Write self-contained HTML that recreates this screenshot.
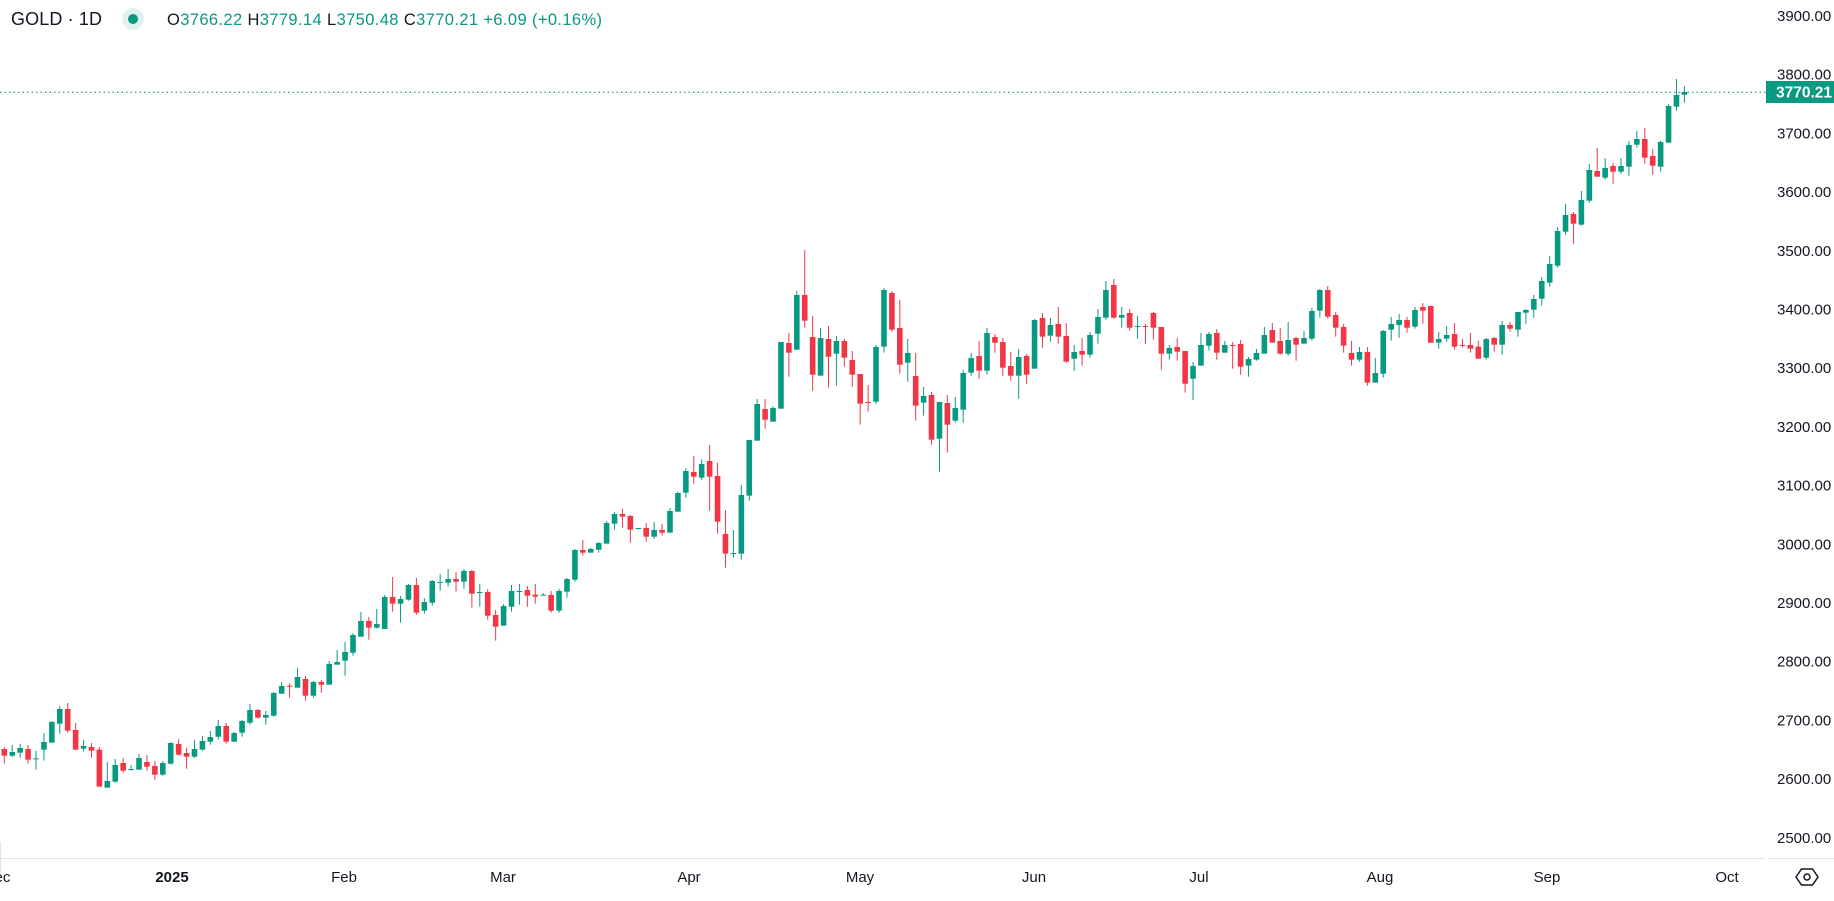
<!DOCTYPE html>
<html><head><meta charset="utf-8">
<style>
html,body{margin:0;padding:0;background:#fff;}
body{width:1834px;height:901px;overflow:hidden;position:relative;font-family:"Liberation Sans",sans-serif;color:#131722;}
svg{position:absolute;left:0;top:0;}
</style></head>
<body>
<svg id="c" width="1834" height="901" xmlns="http://www.w3.org/2000/svg">
<line x1="0" y1="858.5" x2="1765" y2="858.5" stroke="#e0e3eb" stroke-width="1"/>
<line x1="1768" y1="858.5" x2="1834" y2="858.5" stroke="#e0e3eb" stroke-width="1"/>
<line x1="0.5" y1="842" x2="0.5" y2="872" stroke="#e0e3eb" stroke-width="1"/>
<line x1="0" y1="92.3" x2="1766" y2="92.3" stroke="#089981" stroke-width="1.2" stroke-dasharray="1.5,3"/>
<g id="candles"></g>
<g font-family="Liberation Sans, sans-serif" font-size="15" fill="#131722" id="yax"></g>
<rect x="1766" y="81" width="68" height="22" fill="#089981"/>
<text x="1776" y="97.5" font-family="Liberation Sans, sans-serif" font-size="15.5" font-weight="bold" fill="#fff">3770.21</text>
<g font-family="Liberation Sans, sans-serif" font-size="15" fill="#131722" text-anchor="middle">
<text x="-3" y="882">Dec</text>
<text x="172" y="882" font-weight="bold">2025</text>
<text x="344" y="882">Feb</text>
<text x="503" y="882">Mar</text>
<text x="689" y="882">Apr</text>
<text x="860" y="882">May</text>
<text x="1034" y="882">Jun</text>
<text x="1199" y="882">Jul</text>
<text x="1380" y="882">Aug</text>
<text x="1547" y="882">Sep</text>
<text x="1727" y="882">Oct</text>
</g>
<polygon points="1796,877 1801.5,869 1812.5,869 1818,877 1812.5,885 1801.5,885" fill="none" stroke="#131722" stroke-width="1.5"/>
<circle cx="1807" cy="877" r="3" fill="none" stroke="#131722" stroke-width="1.5"/>
<text x="11" y="25" font-family="Liberation Sans, sans-serif" font-size="18" fill="#131722" textLength="91" lengthAdjust="spacing">GOLD · 1D</text>
<circle cx="133" cy="19" r="11" fill="#089981" fill-opacity="0.13"/>
<circle cx="133" cy="19" r="5" fill="#089981"/>
<text x="167" y="25" font-family="Liberation Sans, sans-serif" font-size="16.5" fill="#089981" textLength="435" lengthAdjust="spacing"><tspan fill="#131722">O</tspan>3766.22 <tspan fill="#131722">H</tspan>3779.14 <tspan fill="#131722">L</tspan>3750.48 <tspan fill="#131722">C</tspan>3770.21  +6.09 (+0.16%)</text>
</svg>
<script>
var ns="http://www.w3.org/2000/svg";
var yax=document.getElementById('yax');
for(var p=3900;p>=2500;p-=100){
 var y=15.5+(3900-p)*0.587;
 var t=document.createElementNS(ns,'text');t.setAttribute('x','1777');t.setAttribute('y',(y+5.5).toFixed(1));
 t.textContent=p+'.00';yax.appendChild(t);
}
var segs=[
{ox:0,oy:520,n:1,d:[
['R',687,707,682,731],['G',696,707,675,711],['G',684,698,672,713],['R',687,719,675,731],['G',715,716,693,749],
['G',666,689,639,722],['G',606,668,603,668],['G',567,611,558,641],['R',567,632,549,638],['R',630,689,609,689],
['G',678,686,660,695],['R',681,692,669,713],['R',689,800,681,800],['G',783,803,726,803],['G',735,785,717,788],
['R',729,752,714,758],['G',747,749,735,752],['G',714,749,702,749],['R',726,740,705,752],['R',738,764,723,779],
['G',729,764,723,767],['G',669,731,666,734],['R',672,704,657,707],['R',699,710,684,746],['G',687,710,660,713],
['G',663,689,648,692],['G',651,665,633,674],['G',618,650,600,659],['R',618,665,609,671],['G',639,665,636,665],
['G',603,638,600,650],['G',570,608,552,614],['R',570,593,567,596],['G',585,593,573,614],['G',519,587,516,590],
['G',498,521,486,521],['R',497,499,490,533],['G',471,503,444,503],['R',477,527,468,542],['G',486,527,483,533],
['R',486,494,480,518],['G',432,494,423,494],['G',426,434,390,434],['G',396,422,366,467],['G',345,398,339,407],
['G',303,350,276,350],['R',303,323,291,359],['G',312,323,267,326]]},
{ox:380,oy:420,n:49,d:[
['G',531,627,525,627],['R',531,551,471,575],['G',537,551,528,608],['G',495,539,492,542],['R',495,578,474,584],
['G',546,572,534,581],['G',483,548,480,557],['G',486,488,462,512],['G',477,488,447,500],['R',477,485,456,515],
['G',453,485,447,506],['R',453,521,450,563],['G',516,518,492,560],['R',516,587,507,599],['R',585,620,570,662],
['G',558,617,552,617],['G',513,560,495,575],['G',513,515,492,554],['R',510,527,498,560],['R',524,530,492,551],
['G',524,527,519,527],['R',525,572,513,578],['G',513,572,507,578],['G',477,515,474,533],['G',390,479,387,485],
['R',390,398,360,407],['G',387,398,384,398],['G',369,389,366,398],['G',309,371,303,371],['G',282,311,276,329],
['R',282,290,267,323],['R',288,329,285,368],['G',324,326,324,329],['R',324,350,309,365],['G',330,350,306,356],
['R',330,338,312,347],['G',273,338,264,338],['G',219,275,215,275],['G',153,218,144,233],['R',156,170,108,191]]},
{ox:700,oy:230,n:89,d:[
['G',702,743,688,750],['R',693,740,645,842],['R',738,875,699,911],['R',912,971,840,1013],['G',969,971,900,983],
['G',795,971,765,989],['G',630,797,630,812],['G',522,632,507,632],['R',537,569,507,596],['G',534,575,528,575],
['G',336,536,336,536],['R',339,368,309,440],['G',195,359,183,359],['R',195,272,60,293],['R',321,434,258,482],
['G',324,437,294,437],['R',327,380,288,473],['G',333,371,318,467],['R',333,383,327,410],['R',390,434,363,470],
['R',432,521,432,584],['R',516,518,465,545],['G',351,515,345,521],['G',180,350,174,368],['R',189,299,183,305],
['R',294,404,210,431],['G',369,398,327,455],['R',438,527,369,572],['G',498,518,471,557],['R',495,629,486,644],
['G',516,626,516,725],['R',519,584,495,668],['G',534,572,501,578],['G',429,539,420,578],['G',384,428,369,437],
['R',378,422,333,446],['G',309,422,294,434],['R',321,338,312,368],['R',336,413,324,437],['R',408,437,366,452],
['G',381,437,357,506],['R',378,434,372,461],['G',270,416,267,416],['R',264,320,249,353],['G',285,317,264,335],
['R',282,320,231,341],['R',318,395,279,398],['G',366,386,345,422],['R',363,374,324,407],['G',315,374,306,383],
['G',261,311,237,341]]},
{ox:1090,oy:260,n:140,d:[
['G',90,173,63,179],['R',75,173,57,176],['G',165,173,141,203],['R',159,203,147,212],['G',198,200,168,236],
['R',198,200,192,251],['R',159,203,156,239],['R',201,281,201,329],['G',264,281,255,299],['R',261,275,234,302],
['R',273,371,273,398],['G',318,356,306,420],['G',255,317,219,317],['G',222,257,216,272],['R',219,278,207,299],
['G',255,278,243,278],['R',255,257,246,326],['R',252,320,240,344],['G',297,317,291,350],['G',279,299,267,302],
['G',225,281,201,281],['R',210,248,189,248],['R',243,281,204,284],['G',240,281,186,287],['R',234,254,231,302],
['G',234,251,213,251],['G',153,236,144,242],['G',90,152,87,173],['R',90,170,78,176],['R',165,203,156,230],
['R',201,257,192,278],['R',279,299,243,317],['G',276,299,261,305],['R',276,368,261,377],['G',339,368,294,368],
['G',213,341,210,353],['G',192,209,171,242],['G',180,195,162,233],['R',180,203,171,218]]},
{ox:1400,oy:60,n:179,d:[
['G',750,800,741,806],['R',741,752,729,791],['R',738,848,738,848],['G',837,848,816,866],['G',825,836,798,845],
['R',822,860,789,869],['R',855,857,837,863],['R',855,866,819,878],['R',860,896,842,896],['G',837,893,834,899],
['R',834,854,831,875],['G',795,854,783,884],['R',795,806,786,815],['G',756,809,756,830],['G',750,758,747,791],
['G',717,749,705,773],['G',663,716,651,737],['G',612,668,588,680],['G',513,617,501,623],['G',465,515,432,524],
['R',462,491,456,551],['G',420,494,393,497],['G',330,422,312,428],['R',333,350,264,350],['G',324,353,294,359],
['R',318,335,309,371],['G',318,335,294,341],['G',255,320,243,347],['G',237,254,213,263],['R',237,293,204,311],
['R',288,317,267,344],['G',246,320,243,335],['G',138,248,132,248],['G',105,140,57,152],['G',96,104,78,128]]}
];
var g=document.getElementById('candles');var html='';
segs.forEach(function(s){
 s.d.forEach(function(c,i){
  var n=s.n+i;var x=4.3+(n-1)*7.925;
  var col=c[0]=='G'?'#089981':'#F23645';
  var bt=c[1]/3+s.oy,bb=c[2]/3+s.oy,wt=c[3]/3+s.oy,wb=c[4]/3+s.oy;
  var h=Math.max(1,bb-bt);
  html+='<rect x="'+(x-0.5).toFixed(2)+'" y="'+wt.toFixed(2)+'" width="1" height="'+Math.max(1,wb-wt).toFixed(2)+'" fill="'+col+'"/>';
  html+='<rect x="'+(x-2.8).toFixed(2)+'" y="'+bt.toFixed(2)+'" width="5.6" height="'+h.toFixed(2)+'" fill="'+col+'"/>';
 });
});
g.innerHTML=html;
</script>
</body></html>
